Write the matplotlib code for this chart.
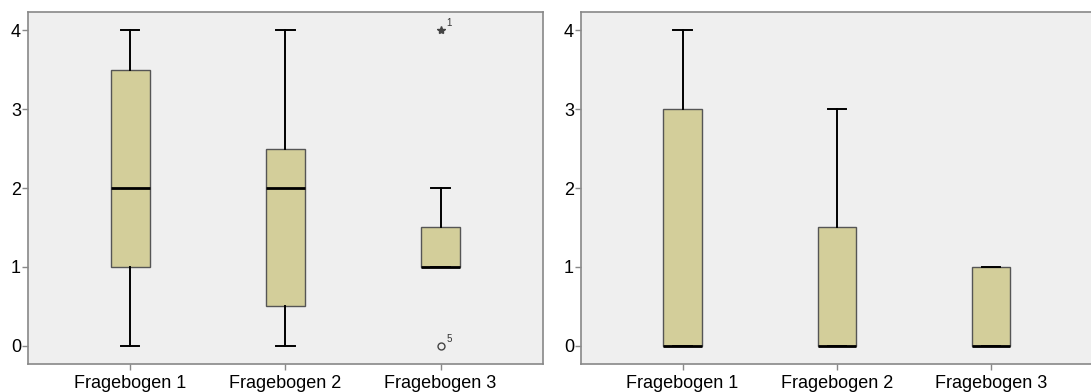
import matplotlib
matplotlib.use("Agg")
import matplotlib.pyplot as plt

categories = ["Fragebogen 1", "Fragebogen 2", "Fragebogen 3"]

# Left panel: (whislo, q1, med, q3, whishi)
left_whislo = [0, 0, 1]
left_q1 = [1, 0.5, 1]
left_med = [2, 2, 1]
left_q3 = [3.5, 2.5, 1.5]
left_whishi = [4, 4, 2]
# outliers in left panel (Fragebogen 3)
left_extreme_vals = [4]
left_extreme_labels = ["1"]
left_outlier_vals = [0]
left_outlier_labels = ["5"]

# Right panel
right_whislo = [0, 0, 0]
right_q1 = [0, 0, 0]
right_med = [0, 0, 0]
right_q3 = [3, 1.5, 1]
right_whishi = [4, 3, 1]

yticks = [0, 1, 2, 3, 4]

box_color = "#D3CE9A"
bg_color = "#EFEFEF"
spine_color = "#888888"

W, H = 1091, 392
fig = plt.figure(figsize=(W / 100, H / 100), dpi=100)
fig.patch.set_facecolor("white")

ax1 = fig.add_axes([28 / W, (H - 364) / H, 515 / W, 352 / H])
ax2 = fig.add_axes([581 / W, (H - 364) / H, 512 / W, 352 / H])


def make_stats(wl, q1, med, q3, wh):
    return [dict(whislo=a, q1=b, med=c, q3=d, whishi=e, fliers=[])
            for a, b, c, d, e in zip(wl, q1, med, q3, wh)]


for ax, stats in [(ax1, make_stats(left_whislo, left_q1, left_med, left_q3, left_whishi)),
                  (ax2, make_stats(right_whislo, right_q1, right_med, right_q3, right_whishi))]:
    ax.set_facecolor(bg_color)
    ax.bxp(stats, positions=[1, 2, 3], widths=0.25, patch_artist=True,
           showfliers=False,
           boxprops=dict(facecolor=box_color, edgecolor="#555555", linewidth=1.0),
           medianprops=dict(color="black", linewidth=2.0),
           whiskerprops=dict(color="black", linewidth=1.4),
           capprops=dict(color="black", linewidth=1.4),
           capwidths=0.12)
    ax.set_xlim(0.342, 3.66)
    ax.set_ylim(-0.23, 4.23)
    ax.set_yticks(yticks)
    ax.set_yticklabels([str(t) for t in yticks], fontsize=13, family="Liberation Sans")
    ax.set_xticks([1, 2, 3])
    ax.set_xticklabels(categories, fontsize=13, family="Liberation Sans")
    ax.tick_params(axis="both", length=4, color=spine_color, width=1)
    ax.tick_params(axis="y", pad=1)
    ax.tick_params(axis="x", pad=4)
    for s in ax.spines.values():
        s.set_color(spine_color)
        s.set_linewidth(1.2)

ax2.spines["right"].set_visible(False)

# outliers on left panel
for v, lab in zip(left_extreme_vals, left_extreme_labels):
    ax1.plot([3], [v], marker="*", color="#444444", markersize=6, linestyle="none")
    ax1.annotate(lab, (3, v), xytext=(4, 3), textcoords="offset points",
                 fontsize=7, color="#333333", family="Liberation Sans")
for v, lab in zip(left_outlier_vals, left_outlier_labels):
    ax1.plot([3], [v], marker="o", markerfacecolor="none", markeredgecolor="#444444",
             markersize=5, linestyle="none")
    ax1.annotate(lab, (3, v), xytext=(4, 3), textcoords="offset points",
                 fontsize=7, color="#333333", family="Liberation Sans")

fig.savefig("out.png", dpi=100)
